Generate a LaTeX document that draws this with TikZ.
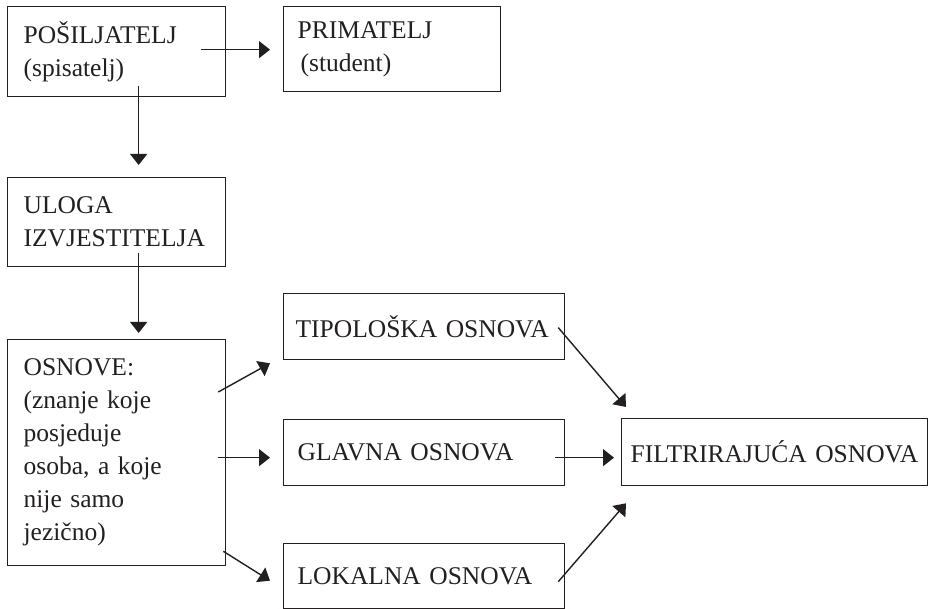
\documentclass[tikz,border=0pt]{standalone}
\usepackage{fontspec}
\setmainfont{Liberation Serif}
\usetikzlibrary{arrows.meta,calc}
\definecolor{ink}{HTML}{231F20}

\begin{document}
\begin{tikzpicture}[x=1pt,y=-1pt,
		box/.style={draw=ink, line width=1.3pt, rectangle, anchor=north west, align=left,
			inner xsep=14pt, inner ysep=0pt, text=ink,
			font=\fontsize{25.5}{33}\selectfont},
		arr/.style={draw=ink, line width=1.4pt, -{Triangle[length=11pt,width=17pt]}}]
		\useasboundingbox (0,0) rectangle (929,609);
		% boxes
		\node[box, text width=186pt, minimum height=90pt, inner xsep=16pt] (posiljatelj) at (7,6) {PO\v{S}ILJATELJ\\(spisatelj)};
		\node[box, text width=189pt, minimum height=85pt] (primatelj) at (283,6) {PRIMATELJ\\\hspace*{3pt}(student)};
		\node[box, text width=186pt, minimum height=89pt, inner xsep=16pt] (uloga) at (7,177) {ULOGA\\IZVJESTITELJA};
		\node[box, text width=186pt, minimum height=226pt, inner xsep=16pt] (osnove) at (7,339) {OSNOVE:\\(znanje koje\\posjeduje\\osoba, a koje\\nije samo\\jezi\v{c}no)};
		\node[box, text width=257pt, minimum height=66pt, inner xsep=12pt] (tipoloska) at (283,293) {TIPOLO\v{S}KA OSNOVA};
		\node[box, text width=253pt, minimum height=66pt] (glavna) at (283,419) {GLAVNA OSNOVA};
		\node[box, text width=253pt, minimum height=65pt] (lokalna) at (283,543) {LOKALNA OSNOVA};
		\node[box, text width=288pt, minimum height=67pt, inner xsep=9pt] (filtr) at (621,418) {FILTRIRAJU\'{C}A OSNOVA};
		% arrows
		\draw[arr] ($(posiljatelj.east)+(-25,-2)$) -- ($(primatelj.west)+(-13,0.5)$);
		\draw[arr] ($(posiljatelj.south)+(22,-11)$) -- ($(uloga.north)+(22,-12)$);
		\draw[arr] ($(uloga.south)+(22,-14)$) -- ($(osnove.north)+(22,-6)$);
		\draw[arr] ($(osnove.north east)+(-8,53)$) -- ($(tipoloska.south west)+(-13,3)$);
		\draw[arr] ($(osnove.east)+(-8,5)$) -- ($(glavna.west)+(-13,5)$);
		\draw[arr] ($(osnove.south east)+(-3,-15)$) -- ($(lokalna.west)+(-13,4.5)$);
		\draw[arr] ($(tipoloska.east)+(-7,1)$) -- ($(filtr.north west)+(5,-11)$);
		\draw[arr] ($(glavna.east)+(-10,5)$) -- ($(filtr.west)+(-7,5.5)$);
		\draw[arr] ($(lokalna.east)+(-7,5.5)$) -- ($(filtr.south west)+(5,17)$);
	\end{tikzpicture}
\end{document}
